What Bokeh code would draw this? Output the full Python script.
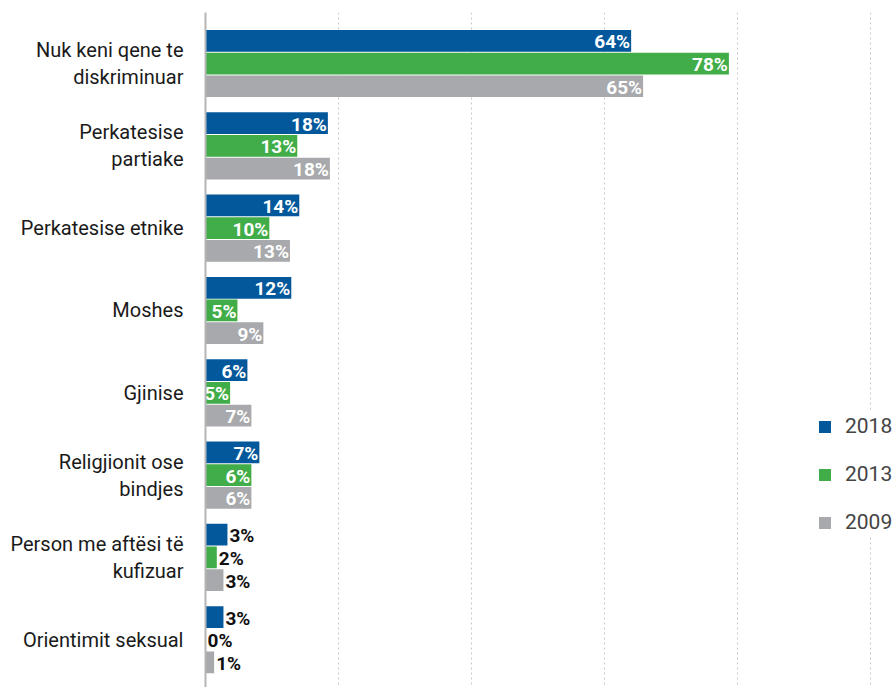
from bokeh.plotting import figure
from bokeh.models import Range1d, FixedTicker, Legend, LegendItem, ColumnDataSource
from bokeh.core.properties import value
from bokeh.embed import file_html
from bokeh.resources import INLINE

categories = [
    "Nuk keni qene te\ndiskriminuar",
    "Perkatesise\npartiake",
    "Perkatesise etnike",
    "Moshes",
    "Gjinise",
    "Religjionit ose\nbindjes",
    "Person me aftësi të\nkufizuar",
    "Orientimit seksual",
]
series = ["2018", "2013", "2009"]
values_2018 = [64.0, 18.4, 14.1, 12.9, 6.3, 8.1, 3.3, 2.7]
values_2013 = [78.7, 13.8, 9.6, 4.8, 3.7, 6.9, 1.7, 0.0]
values_2009 = [65.8, 18.7, 12.7, 8.7, 6.9, 6.9, 2.7, 1.3]
labels_2018 = [64, 18, 14, 12, 6, 7, 3, 3]
labels_2013 = [78, 13, 10, 5, 5, 6, 2, 0]
labels_2009 = [65, 18, 13, 9, 7, 6, 3, 1]
colors = ["#03589B", "#41AD49", "#A7A9AC"]
grid_ticks = [20, 40, 60, 80, 100]

FONT = "Roboto"

p = figure(width=896, height=687,
           x_range=Range1d(0, 103.9), y_range=Range1d(7.58, -0.62),
           output_backend="svg", toolbar_location=None,
           min_border_left=205, min_border_right=0,
           min_border_top=12, min_border_bottom=0)
p.outline_line_color = None
p.background_fill_color = "white"

all_vals = [values_2018, values_2013, values_2009]
all_labs = [labels_2018, labels_2013, labels_2009]
pitch = 0.276
bar_h = 0.264
renderers = []
for k, (vals, labs, col) in enumerate(zip(all_vals, all_labs, colors)):
    off = (k - 1) * pitch
    ys = [i + off for i in range(len(categories))]
    src = ColumnDataSource(dict(y=ys, right=vals))
    r = p.hbar(y="y", right="right", left=0, height=bar_h, source=src,
               fill_color=col, line_color=None)
    renderers.append(r)
    inside = [j for j, v in enumerate(vals) if v >= 3.5]
    outside = [j for j, v in enumerate(vals) if v < 3.5]
    src_in = ColumnDataSource(dict(x=[vals[j] for j in inside], y=[ys[j] for j in inside],
                                   t=[f"{labs[j]}%" for j in inside]))
    src_out = ColumnDataSource(dict(x=[vals[j] for j in outside], y=[ys[j] for j in outside],
                                    t=[f"{labs[j]}%" for j in outside]))
    p.text(x="x", y="y", text="t", source=src_in, text_align="right",
           text_baseline="middle", x_offset=-1, y_offset=1,
           text_color="white", text_font=value(FONT), text_font_style="bold",
           text_font_size="19px")
    p.text(x="x", y="y", text="t", source=src_out, text_align="left",
           text_baseline="middle", x_offset=2, y_offset=1,
           text_color="#111111", text_font=value(FONT), text_font_style="bold",
           text_font_size="19px")

p.xaxis.visible = False
p.xgrid.ticker = FixedTicker(ticks=grid_ticks)
p.xgrid.grid_line_color = "#C8C8C8"
p.xgrid.grid_line_dash = "2 3"
p.xgrid.grid_line_width = 1
p.ygrid.visible = False

p.yaxis.ticker = FixedTicker(ticks=list(range(len(categories))))
p.yaxis.major_label_overrides = {i: c for i, c in enumerate(categories)}
p.yaxis.major_tick_line_color = None
p.yaxis.minor_tick_line_color = None
p.yaxis.axis_line_color = "#B5B5B5"
p.yaxis.axis_line_width = 2
p.yaxis.major_label_text_font = FONT
p.yaxis.major_label_text_font_size = "20px"
p.yaxis.major_label_text_color = "#1a1a1a"
p.yaxis.major_label_text_line_height = 1.12
p.yaxis.major_label_standoff = 16

legend = Legend(items=[LegendItem(label=s, renderers=[r]) for s, r in zip(series, renderers)],
                location=(612, 151), glyph_width=15, glyph_height=15,
                label_text_font=FONT, label_text_font_size="21px",
                label_text_color="#444444", label_standoff=13,
                label_height=28, spacing=20, padding=0, margin=0,
                border_line_color=None, background_fill_color="white",
                background_fill_alpha=1.0)
p.add_layout(legend)

open("out.html", "w").write(file_html(p, INLINE))
